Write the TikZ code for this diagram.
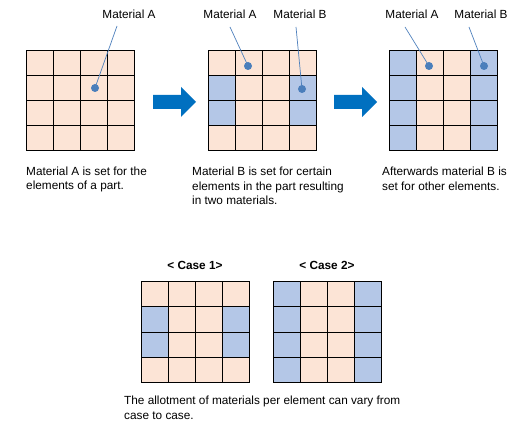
\documentclass[tikz,border=0pt]{standalone}
\usepackage{fontspec}
\setmainfont{Liberation Sans}
\definecolor{peach}{HTML}{FCE4D6}
\definecolor{lblue}{HTML}{B4C7E7}
\definecolor{dotblue}{HTML}{4A7EBB}
\definecolor{lineblue}{HTML}{4F81BD}
\definecolor{arrowblue}{HTML}{0070C0}
\newcommand{\matgrid}[3]{%
  \node[gridbox, anchor=north west] (#1) at (#2,#3) {};
  \fill[peach] (#2,#3) rectangle ++(108.8,100);
}
\newcommand{\gridlines}[2]{%
  \foreach \i in {0,...,4}{
    \draw[gridline] (#1+\i*27.2,#2) -- (#1+\i*27.2,#2+100);
    \draw[gridline] (#1,#2+\i*25) -- (#1+108.8,#2+\i*25);
  }
}
\newcommand{\bcell}[4]{\fill[lblue] (#1+#3*27.2,#2+#4*25) rectangle ++(27.2,25);}
\tikzset{
  gridbox/.style={minimum width=108.8pt, minimum height=100pt, inner sep=0pt},
  gridline/.style={line width=1pt, black, line cap=rect},
  lbl/.style={font=\fontsize{11.8}{14.5}\selectfont, inner sep=0pt, anchor=base},
  caption/.style={font=\fontsize{11.8}{14.5}\selectfont, inner sep=0pt, anchor=north west, align=left},
  casel/.style={font=\fontsize{11.8}{14.5}\selectfont\bfseries, inner sep=0pt, anchor=base},
  dotc/.style={circle, fill=dotblue, minimum size=8pt, inner sep=0pt},
  leader/.style={lineblue, line width=0.7pt},
  bigarrow/.style={fill=arrowblue},
}
\begin{document}
\begin{tikzpicture}[x=1pt, y=-1pt]
\useasboundingbox[fill=white] (0,0) rectangle (530,430);
% grid 1
\matgrid{g1}{26}{51}
\gridlines{26}{51}
% grid 2
\matgrid{g2}{208}{51}
\bcell{208}{51}{0}{1}\bcell{208}{51}{0}{2}\bcell{208}{51}{3}{1}\bcell{208}{51}{3}{2}
\gridlines{208}{51}
% grid 3
\matgrid{g3}{389}{51}
\foreach \r in {0,...,3}{\bcell{389}{51}{0}{\r}\bcell{389}{51}{3}{\r}}
\gridlines{389}{51}
% case 1
\matgrid{c1}{141}{282}
\bcell{141}{282}{0}{1}\bcell{141}{282}{0}{2}\bcell{141}{282}{3}{1}\bcell{141}{282}{3}{2}
\gridlines{141}{282}
% case 2
\matgrid{c2}{273}{282}
\foreach \r in {0,...,3}{\bcell{273}{282}{0}{\r}\bcell{273}{282}{3}{\r}}
\gridlines{273}{282}
% dots
\node[dotc] (d1) at (95,88) {};
\node[dotc] (d2a) at (248,66) {};
\node[dotc] (d2b) at (302,89) {};
\node[dotc] (d3a) at (429,66) {};
\node[dotc] (d3b) at (484,66) {};
% labels
\node[lbl] (l1) at (129,19) {Material A};
\node[lbl] (l2a) at (230,19) {Material A};
\node[lbl] (l2b) at (300,19) {Material B};
\node[lbl] (l3a) at (412,19) {Material A};
\node[lbl] (l3b) at (481,19) {Material B};
\coordinate (p1) at (117,26);
\coordinate (p2a) at (230,27);
\coordinate (p2b) at (296,27);
\coordinate (p3a) at (405,27);
\coordinate (p3b) at (469,27);
\draw[leader] (p1) -- (d1.center);
\draw[leader] (p2a) -- (d2a.center);
\draw[leader] (p2b) -- (d2b.center);
\draw[leader] (p3a) -- (d3a.center);
\draw[leader] (p3b) -- (d3b.center);
% arrows
\fill[bigarrow] (153,95) -- (181,95) -- (181,87) -- (196,102) -- (181,117) -- (181,109) -- (153,109) -- cycle;
\fill[bigarrow] (334,95) -- (362,95) -- (362,87) -- (377,102) -- (362,117) -- (362,109) -- (334,109) -- cycle;
% captions
\node[caption] (t1) at (26,166.5) {Material A is set for the\\elements of a part.};
\node[caption] (t2) at (192,167) {Material B is set for certain\\elements in the part resulting\\in two materials.};
\node[caption] (t3) at (382,167) {Afterwards material B is\\set for other elements.};
\node[casel] (k1) at (195,270) {< Case 1>};
\node[casel] (k2) at (327,270) {< Case 2>};
\node[caption] (t4) at (124,396) {The allotment of materials per element can vary from\\case to case.};
\end{tikzpicture}
\end{document}
